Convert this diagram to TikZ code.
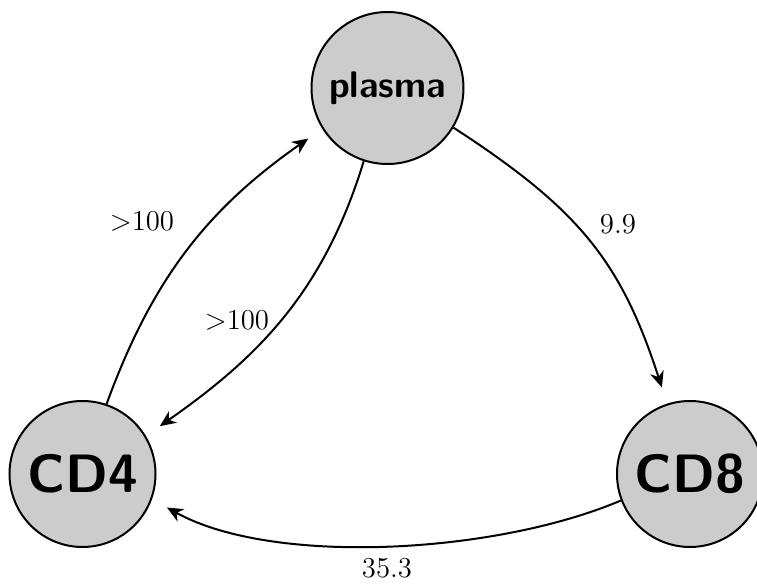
\documentclass[tikz,border=0pt]{standalone}
\usetikzlibrary{arrows.meta}
\begin{document}
\begin{tikzpicture}[x=0.5pt,y=0.5pt,
  cell/.style={circle,draw=black,line width=1pt,fill=black!20,inner sep=0pt,font=\sffamily\bfseries},
  edge/.style={line width=1pt,-{Stealth[length=8pt,width=7pt,inset=2.5pt]},shorten >=8.5pt},
  lbl/.style={font=\Large}]
\useasboundingbox (0,0) rectangle (757,584);
\node[cell,minimum size=76pt,font=\sffamily\bfseries\fontsize{18.5}{20}\selectfont] (plasma) at (387.5,496) {plasma};
\node[cell,minimum size=73pt,font=\sffamily\bfseries\fontsize{27}{30}\selectfont] (cd4) at (82.5,110) {CD4};
\node[cell,minimum size=73pt,font=\sffamily\bfseries\fontsize{27}{30}\selectfont] (cd8) at (690,110) {CD8};
\draw[edge] (cd4.71) to[out=70,in=215] (plasma.212);
\draw[edge] (plasma.252) to[out=253,in=35] (cd4.31);
\draw[edge] (plasma.-31) to[out=-33,in=108,looseness=1.1] (cd8.108);
\draw[edge] (cd8.201) to[out=203,in=-29,looseness=0.75] (cd4.-20);
\node[lbl] (l1) at (142,362) {${>}100$};
\node[lbl] (l2) at (237,263) {${>}100$};
\node[lbl] (l3) at (618,360) {$9.9$};
\node[lbl] (l4) at (387,16) {$35.3$};
\end{tikzpicture}
\end{document}
